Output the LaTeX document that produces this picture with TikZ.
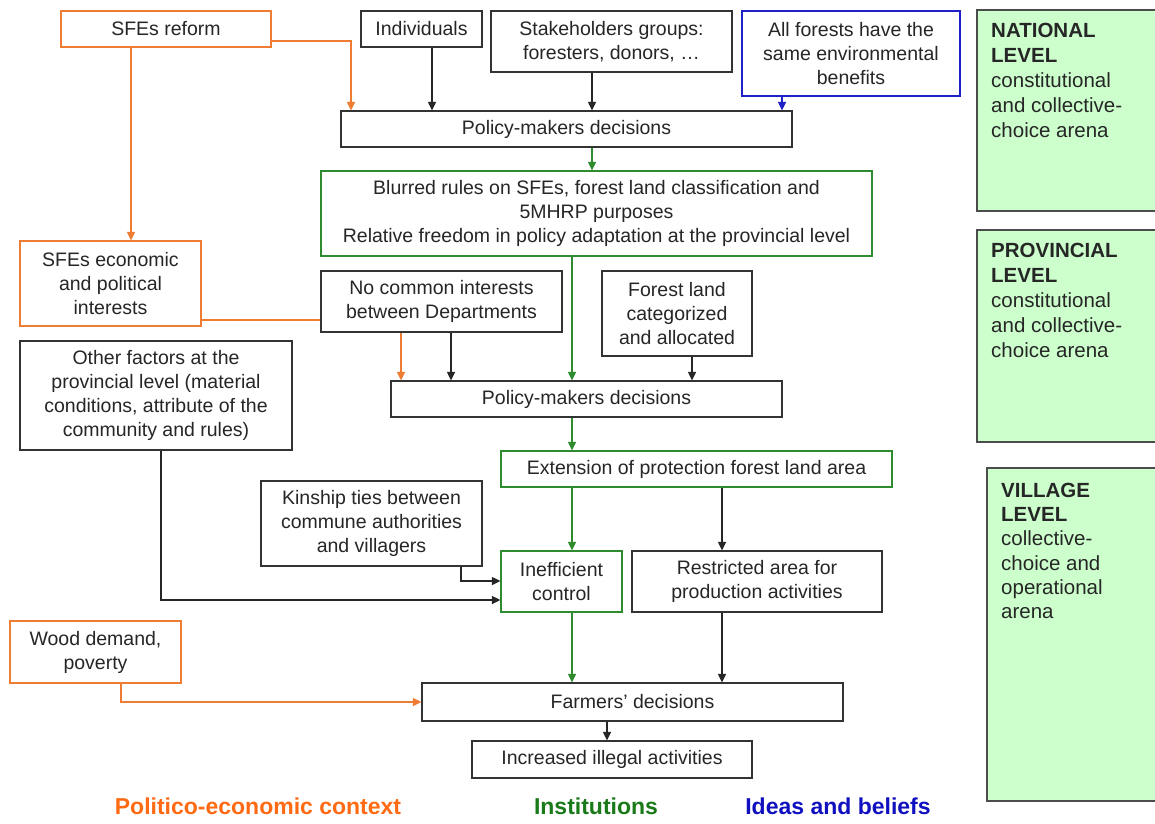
\documentclass[tikz,border=0pt]{standalone}
\usepackage{fontspec}
\setmainfont{Liberation Sans}
\usetikzlibrary{arrows.meta}
\definecolor{oline}{HTML}{EE7D33}
\definecolor{otext}{HTML}{FF6A13}
\definecolor{gline}{HTML}{2E8B2E}
\definecolor{gtext}{HTML}{1A7A1A}
\definecolor{bline}{HTML}{2020C8}
\definecolor{btext}{HTML}{1010C0}
\definecolor{panelfill}{HTML}{CCFFCC}
\begin{document}
\begin{tikzpicture}[x=1pt,y=-1pt,
  box/.style={draw=black!80, line width=1.2pt, fill=white, inner sep=0pt, align=center,
              font=\fontsize{19.5}{24}\selectfont, text=black!85},
  obox/.style={box, draw=oline},
  gbox/.style={box, draw=gline},
  bbox/.style={box, draw=bline},
  arr/.style={line width=1.2pt, -{Triangle[width=8pt,length=8.5pt]}},
  karr/.style={arr, color=black!85},
  oarr/.style={arr, color=oline},
  garr/.style={arr, color=gline},
  barr/.style={arr, color=bline},
  panel/.style={draw=black!70, line width=1.2pt, fill=panelfill},
  paneltext/.style={anchor=north west, align=left, inner sep=0pt, text=black!85},
  legend/.style={font=\fontsize{23}{27}\selectfont\bfseries}
]
\clip (0,0) rectangle (1155,823);
\fill[white] (0,0) rectangle (1155,823);

% right panels
\draw[panel] (977,10) rectangle (1165,211);
\draw[panel] (977,230) rectangle (1165,442);
\draw[panel] (987,468) rectangle (1165,801);
\node[paneltext, font=\fontsize{20.5}{25}\selectfont] (nattext) at (991,23.4)
  {\textbf{NATIONAL}\\\textbf{LEVEL}\\constitutional\\and collective-\\choice arena};
\node[paneltext, font=\fontsize{20.5}{25}\selectfont] (provtext) at (991,242.7)
  {\textbf{PROVINCIAL}\\\textbf{LEVEL}\\constitutional\\and collective-\\choice arena};
\node[paneltext, font=\fontsize{20.5}{24.3}\selectfont] (villtext) at (1001,482.7)
  {\textbf{VILLAGE}\\\textbf{LEVEL}\\collective-\\choice and\\operational\\arena};

% boxes
\node[obox, minimum width=210pt, minimum height=36pt] (reform) at (166,29) {SFEs reform};
\node[box, minimum width=121pt, minimum height=36pt] (indiv) at (421.5,29) {Individuals};
\node[box, minimum width=241pt, minimum height=61pt] (stake) at (611.5,41.5) {Stakeholders groups:\\foresters, donors, …};
\node[bbox, minimum width=218pt, minimum height=85pt] (allf) at (851,53.5) {All forests have the\\same environmental\\benefits};
\node[box, minimum width=451pt, minimum height=36pt] (pm1) at (566.5,129) {Policy-makers decisions};
\node[gbox, minimum width=551pt, minimum height=85pt] (blur) at (596.5,213.5) {Blurred rules on SFEs, forest land classification and\\5MHRP purposes\\Relative freedom in policy adaptation at the provincial level};
\node[obox, minimum width=181pt, minimum height=85pt] (econ) at (110.5,283.5) {SFEs economic\\and political\\interests};
\node[box, minimum width=241pt, minimum height=61pt] (nocom) at (441.5,301.5) {No common interests\\between Departments};
\node[box, minimum width=150pt, minimum height=85pt] (forest) at (677,313.5) {Forest land\\categorized\\and allocated};
\node[box, minimum width=272pt, minimum height=109pt] (other) at (156,395.5) {Other factors at the\\provincial level (material\\conditions, attribute of the\\community and rules)};
\node[box, minimum width=391pt, minimum height=36pt] (pm2) at (586.5,399) {Policy-makers decisions};
\node[gbox, minimum width=391pt, minimum height=36pt] (ext) at (696.5,469) {Extension of protection forest land area};
\node[box, minimum width=221pt, minimum height=85pt] (kin) at (371.5,523.5) {Kinship ties between\\commune authorities\\and villagers};
\node[gbox, minimum width=121pt, minimum height=61pt] (ineff) at (561.5,581.5) {Inefficient\\control};
\node[box, minimum width=250pt, minimum height=61pt] (restr) at (757,581.5) {Restricted area for\\production activities};
\node[obox, minimum width=171pt, minimum height=62pt] (wood) at (95.5,652) {Wood demand,\\poverty};
\node[box, minimum width=421pt, minimum height=38pt] (farm) at (632.5,702) {Farmers' decisions};
\node[box, minimum width=280pt, minimum height=37pt] (incr) at (612,759.5) {Increased illegal activities};

% legend
\node[legend, text=otext] (lg1) at (258,806) {Politico-economic context};
\node[legend, text=gtext] (lg2) at (596,806) {Institutions};
\node[legend, text=btext] (lg3) at (838,806) {Ideas and beliefs};

% connectors
\draw[oarr] (reform.east |- 0,41) -| (pm1.north -| 351,0);
\draw[karr] (indiv.south -| 432,0) -- (pm1.north -| 432,0);
\draw[karr] (stake.south -| 592,0) -- (pm1.north -| 592,0);
\draw[barr] (allf.south -| 782,0) -- (pm1.north -| 782,0);
\draw[garr] (pm1.south -| 592,0) -- (blur.north -| 592,0);
\draw[oarr] (reform.south -| 131,0) -- (econ.north -| 131,0);
\draw[garr] (blur.south -| 572,0) -- (pm2.north -| 572,0);
\draw[draw=oline, line width=1.2pt] (econ.east |- 0,320) -- (nocom.west |- 0,320);
\draw[oarr] (nocom.south -| 401,0) -- (pm2.north -| 401,0);
\draw[karr] (nocom.south -| 451,0) -- (pm2.north -| 451,0);
\draw[karr] (forest.south -| 692,0) -- (pm2.north -| 692,0);
\draw[garr] (pm2.south -| 572,0) -- (ext.north -| 572,0);
\draw[garr] (ext.south -| 572,0) -- (ineff.north -| 572,0);
\draw[karr] (ext.south -| 722,0) -- (restr.north -| 722,0);
\draw[karr] (kin.south -| 461,0) |- (ineff.west |- 0,581);
\draw[karr] (other.south -| 161,0) |- (ineff.west |- 0,600);
\draw[garr] (ineff.south -| 572,0) -- (farm.north -| 572,0);
\draw[karr] (restr.south -| 722,0) -- (farm.north -| 722,0);
\draw[oarr] (wood.south -| 121,0) |- (farm.west);
\draw[karr] (farm.south -| 607,0) -- (incr.north -| 607,0);
\end{tikzpicture}
\end{document}
